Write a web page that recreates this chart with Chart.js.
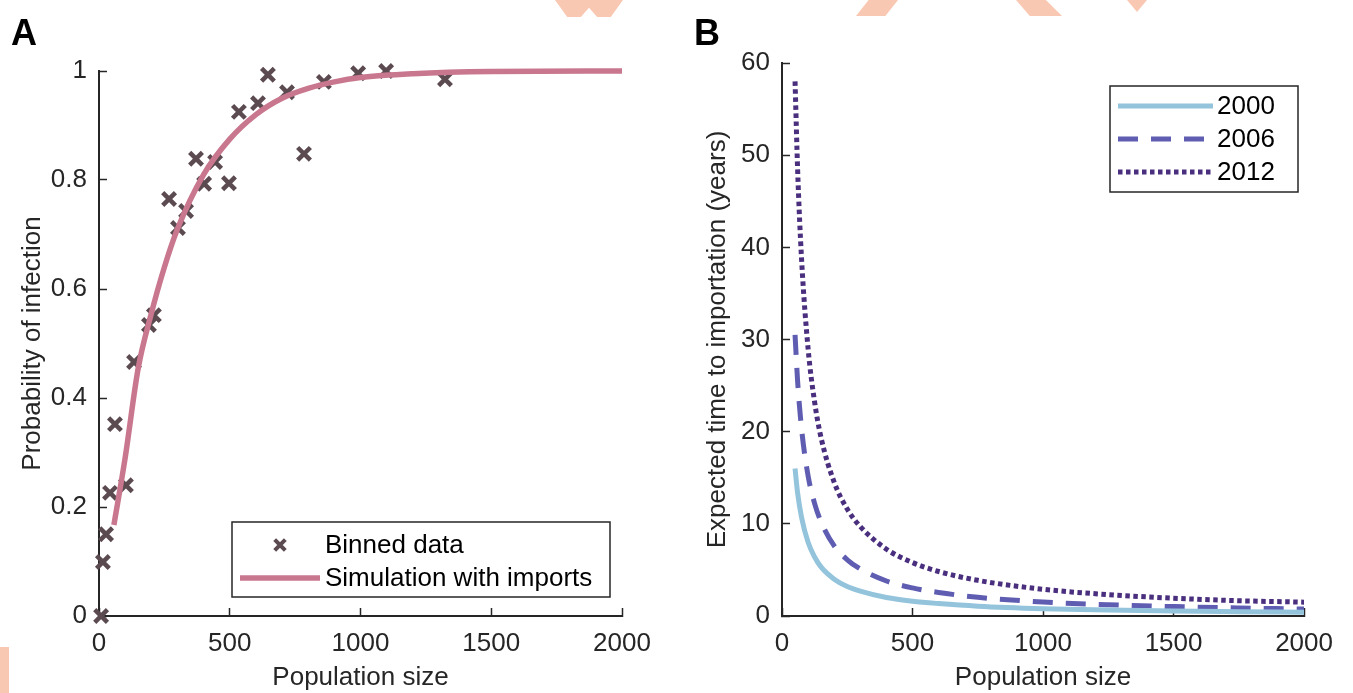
<!DOCTYPE html>
<html lang="en">
  <head>
    <meta charset="UTF-8" />
    <title>Infection probability and importation time</title>
    <script src="https://cdn.jsdelivr.net/npm/chart.js"></script>
    <style>
      html,
      body {
        margin: 0;
        padding: 0;
        background: #fff;
      }
      body {
        position: relative;
        width: 1353px;
        height: 693px;
        overflow: hidden;
        font-family: "Liberation Sans", Arial, sans-serif;
      }
      .panel {
        position: absolute;
        top: 0;
        height: 693px;
      }
      #panelA {
        left: 0;
        width: 680px;
      }
      #panelB {
        left: 680px;
        width: 673px;
      }
      .tag {
        position: absolute;
        top: 15px;
        font-size: 36px;
        font-weight: bold;
        line-height: 1;
        color: #000;
      }
      .deco {
        position: absolute;
        background: #f9c8b2;
      }
    </style>
  </head>
  <body>
    <div class="deco" style="left:555px;top:0;width:68px;height:17px;clip-path:polygon(0 0,100% 0,82% 100%,62% 100%,50% 45%,38% 100%,18% 100%)"></div>
    <div class="deco" style="left:856px;top:0;width:42px;height:16px;clip-path:polygon(30% 0,100% 0,70% 100%,0 100%)"></div>
    <div class="deco" style="left:1016px;top:0;width:46px;height:16px;clip-path:polygon(0 0,65% 0,100% 100%,30% 100%)"></div>
    <div class="deco" style="left:1127px;top:0;width:20px;height:12px;clip-path:polygon(0 0,100% 0,50% 100%)"></div>
    <div class="deco" style="left:0;top:647px;width:9px;height:46px"></div>

    <div class="panel" id="panelA"><canvas id="chartA"></canvas></div>
    <div class="panel" id="panelB"><canvas id="chartB"></canvas></div>
    <div class="tag" style="left:11px">A</div>
    <div class="tag" style="left:694px">B</div>

    <script>
      const FONT = '"Liberation Sans", Arial, sans-serif';
      const INK = "#262626";

      // tick labels
      const popTicks = [0, 500, 1000, 1500, 2000];
      const probTicks = [0, 0.2, 0.4, 0.6, 0.8, 1];
      const timeTicks = [0, 10, 20, 30, 40, 50, 60];

      // panel A: binned data (crosses)
      const binnedPop = [8, 15, 27, 42, 61, 103, 134, 191, 210, 268, 302, 333, 371, 402, 444, 497, 535, 608, 646, 719, 784, 860, 991, 1098, 1323];
      const binnedProb = [0, 0.099, 0.15, 0.226, 0.352, 0.24, 0.466, 0.534, 0.552, 0.765, 0.712, 0.743, 0.839, 0.793, 0.833, 0.794, 0.925, 0.941, 0.993, 0.961, 0.848, 0.98, 0.996, 1.0, 0.985];

      // panel A: simulation with imports
      const simPop = [57, 100, 150, 200, 250, 300, 400, 500, 600, 700, 800, 900, 1000, 1200, 1500, 2000];
      const simProb = [0.167, 0.29, 0.455, 0.555, 0.64, 0.71, 0.81, 0.875, 0.92, 0.95, 0.968, 0.98, 0.988, 0.995, 0.999, 1.0];

      // panel B: expected time to importation (years)
      const importPop = [50, 60, 75, 100, 125, 150, 200, 250, 300, 400, 500, 600, 750, 1000, 1250, 1500, 1750, 2000];
      const time2000 = [16, 13.3, 10.7, 8, 6.4, 5.3, 4, 3.2, 2.7, 2, 1.6, 1.35, 1.07, 0.8, 0.65, 0.53, 0.46, 0.4];
      const time2006 = [30.5, 25.4, 20.3, 15.2, 12.2, 10.2, 7.6, 6.1, 5.1, 3.8, 3.05, 2.55, 2.03, 1.52, 1.22, 1.02, 0.87, 0.76];
      const time2012 = [58, 48.3, 38.7, 29, 23.2, 19.3, 14.5, 11.6, 9.7, 7.25, 5.8, 4.83, 3.87, 2.9, 2.32, 1.93, 1.66, 1.5];

      const pairs = (xs, ys) => xs.map((x, i) => ({ x: x, y: ys[i] }));

      function axis(ticks, size, title, tickPad, titlePad) {
        return {
          type: "linear",
          min: ticks[0],
          max: ticks[ticks.length - 1],
          afterBuildTicks: (s) => {
            s.ticks = ticks.map((v) => ({ value: v }));
          },
          afterFit: (s) => {
            if (s.isHorizontal()) s.height = size;
            else s.width = size;
          },
          border: { display: true, color: INK, width: 2 },
          grid: {
            drawOnChartArea: false,
            drawTicks: true,
            tickLength: -8,
            tickWidth: 1.5,
            tickColor: INK,
          },
          ticks: {
            color: INK,
            padding: tickPad,
            autoSkip: false,
            maxRotation: 0,
            font: { family: FONT, size: 26 },
            callback: (v) => String(v),
          },
          title: {
            display: true,
            text: title,
            color: INK,
            padding: titlePad,
            font: { family: FONT, size: 26 },
          },
        };
      }

      // legend drawn as a framed box, like the original figure
      const boxLegend = {
        id: "boxLegend",
        afterDraw(chart, args, o) {
          const ctx = chart.ctx;
          ctx.save();
          ctx.fillStyle = "#fff";
          ctx.fillRect(o.x, o.y, o.w, o.h);
          ctx.lineWidth = 1.5;
          ctx.strokeStyle = INK;
          ctx.strokeRect(o.x, o.y, o.w, o.h);
          ctx.font = "26px " + FONT;
          ctx.textBaseline = "middle";
          chart.data.datasets.forEach((ds, i) => {
            const y = o.y + o.rows[i];
            const x0 = o.x + o.sampleX0;
            const x1 = o.x + o.sampleX1;
            ctx.strokeStyle = ds.borderColor;
            if (ds.showLine === false) {
              ctx.lineWidth = 4;
              Chart.helpers.drawPoint(
                ctx,
                { pointStyle: ds.pointStyle, radius: 7.5, borderWidth: 4, rotation: 0 },
                (x0 + x1) / 2,
                y
              );
            } else {
              ctx.lineWidth = ds.borderWidth;
              ctx.lineCap = "butt";
              ctx.setLineDash(ds.borderDash || []);
              ctx.beginPath();
              ctx.moveTo(x0, y);
              ctx.lineTo(x1, y);
              ctx.stroke();
              ctx.setLineDash([]);
            }
            ctx.fillStyle = "#000";
            ctx.fillText(ds.label, o.x + o.textX, y + 1);
          });
          ctx.restore();
        },
      };

      const common = {
        responsive: true,
        maintainAspectRatio: false,
        devicePixelRatio: 1,
        animation: false,
        events: [],
        plugins: { legend: { display: false }, tooltip: { enabled: false } },
      };

      new Chart(document.getElementById("chartA"), {
        type: "scatter",
        data: {
          datasets: [
            {
              label: "Binned data",
              data: pairs(binnedPop, binnedProb),
              showLine: false,
              pointStyle: "crossRot",
              pointRadius: 9,
              pointBorderWidth: 4.5,
              borderColor: "#5b4a50",
              backgroundColor: "#5b4a50",
              order: 2,
              clip: false,
            },
            {
              label: "Simulation with imports",
              data: pairs(simPop, simProb),
              showLine: true,
              pointRadius: 0,
              borderWidth: 5.5,
              borderColor: "#c9778f",
              cubicInterpolationMode: "monotone",
              order: 1,
              clip: false,
            },
          ],
        },
        options: {
          ...common,
          layout: { padding: { top: 71, right: 58, bottom: 0, left: 0 } },
          scales: {
            x: axis(popTicks, 77, "Population size", 20, { top: 0, bottom: 0 }),
            y: axis(probTicks, 99, "Probability of infection", 20, { top: 17, bottom: 0 }),
          },
          plugins: {
            ...common.plugins,
            boxLegend: {
              x: 232, y: 522, w: 378, h: 75,
              rows: [23, 56],
              sampleX0: 8, sampleX1: 88, textX: 93,
            },
          },
        },
        plugins: [boxLegend],
      });

      const curve = (label, ys, color, dash) => ({
        label: label,
        data: pairs(importPop, ys),
        showLine: true,
        pointRadius: 0,
        borderWidth: 5,
        borderColor: color,
        borderDash: dash,
        borderCapStyle: "butt",
        cubicInterpolationMode: "monotone",
      });

      new Chart(document.getElementById("chartB"), {
        type: "scatter",
        data: {
          datasets: [
            curve("2000", time2000, "#93c4dc", []),
            curve("2006", time2006, "#5f5db2", [20, 13]),
            curve("2012", time2012, "#4a2f7f", [4.5, 3.5]),
          ],
        },
        options: {
          ...common,
          layout: { padding: { top: 63, right: 45, bottom: 0, left: 0 } },
          scales: {
            x: axis(popTicks, 77, "Population size", 20, { top: 0, bottom: 0 }),
            y: axis(timeTicks, 102, "Expected time to importation (years)", 20, { top: 22, bottom: 0 }),
          },
          plugins: {
            ...common.plugins,
            boxLegend: {
              x: 430, y: 86, w: 188, h: 106,
              rows: [20, 53, 86],
              sampleX0: 8, sampleX1: 103, textX: 107,
            },
          },
        },
        plugins: [boxLegend],
      });
    </script>
  </body>
</html>
